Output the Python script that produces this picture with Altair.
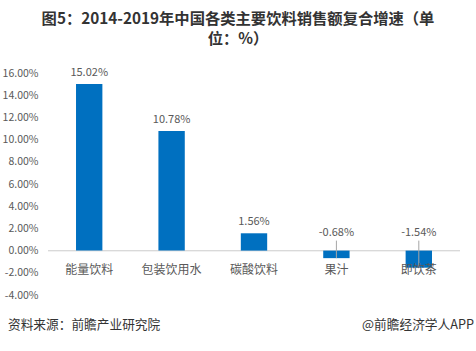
import altair as alt
import pandas as pd

categories = ["能量饮料", "包装饮用水", "碳酸饮料", "果汁", "即饮茶"]
values = [15.02, 10.78, 1.56, -0.68, -1.54]
y_ticks = [-4, -2, 0, 2, 4, 6, 8, 10, 12, 14, 16]
title_lines = ["图5：2014-2019年中国各类主要饮料销售额复合增速（单", "位：%）"]
source_text = "资料来源：前瞻产业研究院"
brand_text = "@前瞻经济学人APP"

df = pd.DataFrame({"cat": categories, "val": values})

W, H = 412, 222
FONT = "Noto Sans CJK SC"
GREY = "#595959"
FMT = "replace(format(datum.val, '.2f'), '\u2212', '-') + '%'"

xenc = alt.X("cat:N", sort=categories, axis=None,
             scale=alt.Scale(paddingInner=0.68, paddingOuter=0.34))
yscale = alt.Scale(domain=[-4, 16], nice=False, zero=False)
YAXIS = alt.Axis(values=y_ticks,
                 labelExpr="replace(format(datum.value, '.2f'), '\u2212', '-') + '%'",
                 grid=False, domain=False, ticks=False, labelPadding=10, title=None,
                 labelOverlap=False, labelFontSize=10.5, labelColor=GREY, labelFont=FONT)

base = alt.Chart(df)

bars = base.mark_bar(color="#0070C0").encode(
    x=xenc,
    y=alt.Y("val:Q", scale=yscale, axis=YAXIS),
    y2=alt.datum(0),
)

zero = base.mark_rule(color="#d9d9d9", strokeWidth=1).encode(y=alt.datum(0, scale=yscale, axis=YAXIS))

pos_labels = base.transform_filter("datum.val > 0").transform_calculate(lab=FMT).mark_text(
    baseline="bottom", dy=-6, fontSize=11, color=GREY, font=FONT
).encode(x=xenc, y=alt.Y("val:Q", scale=yscale, axis=YAXIS), text="lab:N")

neg = base.transform_filter("datum.val < 0")
neg_labels = neg.transform_calculate(lab=FMT).mark_text(
    baseline="bottom", dy=-13, fontSize=11, color=GREY, font=FONT
).encode(x=xenc, y=alt.datum(0, scale=yscale, axis=YAXIS), text="lab:N")

leaders = neg.mark_rule(color="#a6a6a6", strokeWidth=1).encode(
    x=xenc, y=alt.Y("val:Q", scale=yscale, axis=YAXIS), y2=alt.datum(0.9))

cat_labels = base.mark_text(baseline="middle", dy=19, fontSize=12, color=GREY, font=FONT).encode(
    x=xenc, y=alt.datum(0, scale=yscale, axis=YAXIS), text="cat:N")

foot_left = alt.Chart(pd.DataFrame({"t": [source_text]})).mark_text(
    align="left", baseline="middle", fontSize=12.7, color="#333333", font=FONT
).encode(x=alt.value(-40), y=alt.value(252), text="t:N")

foot_right = alt.Chart(pd.DataFrame({"t": [brand_text]})).mark_text(
    align="right", baseline="middle", fontSize=12.7, color="#333333", font=FONT
).encode(x=alt.value(426), y=alt.value(252), text="t:N")

chart = alt.layer(zero, bars, leaders, pos_labels, neg_labels, cat_labels, foot_left, foot_right).properties(
    width=W, height=H,
    title=alt.TitleParams(text=title_lines, anchor="middle", dx=-16, offset=20,
                          fontSize=15.3, font=FONT, fontWeight="bold", color="#333333", lineHeight=20),
    padding={"left": 48, "top": 73, "right": 16, "bottom": 56},
    autosize=alt.AutoSizeParams(type="none"),
).configure_view(stroke=None).configure_axis(labelOverlap=False)

chart.save("out.html", embed_options={"renderer": "svg", "actions": False})
